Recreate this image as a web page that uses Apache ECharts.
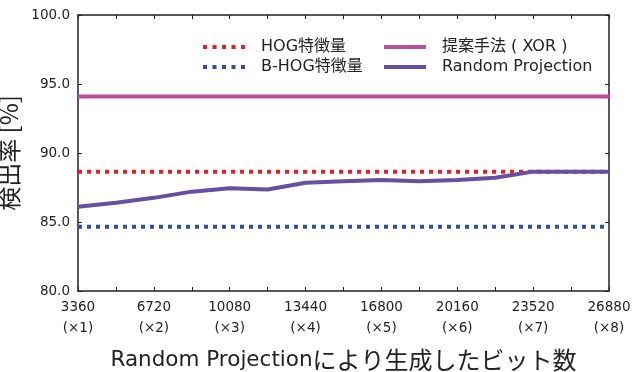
<!DOCTYPE html>
<html>
<head>
<meta charset="utf-8">
<script src="https://cdn.jsdelivr.net/npm/echarts@6/dist/echarts.min.js"></script>
<style>html,body{margin:0;padding:0;background:#fff}#c{width:633px;height:372px}</style>
</head>
<body>
<div id="c"></div>
<script>
const xValues = [3360, 5040, 6720, 8400, 10080, 11760, 13440, 15120, 16800, 18480, 20160, 21840, 23520, 25200, 26880];
const rpValues = [86.1, 86.4, 86.75, 87.2, 87.45, 87.35, 87.85, 87.95, 88.05, 87.95, 88.05, 88.2, 88.65, 88.65, 88.65];
const hogValue = 88.65;
const bhogValue = 84.65;
const xorValue = 94.1;
const xRange = [3360, 26880];
const yTicks = [80, 85, 90, 95, 100];
const seriesNames = ['HOG特徴量', 'B-HOG特徴量', '提案手法 ( XOR )', 'Random Projection'];

const font = '"DejaVu Sans", "Noto Sans CJK JP", sans-serif';
const cjk = '"Noto Sans CJK JP", sans-serif';
const chart = echarts.init(document.getElementById('c'), null, {renderer: 'canvas'});
const axisLine = {show: true, lineStyle: {color: '#222', width: 1.5}};
const axisTick = {show: true, inside: true, length: 4, lineStyle: {color: '#222', width: 1}};
const flat = v => xRange.map(x => [x, v]);
const dotIcon = 'path://M0,0h4v4h-4zM9.5,0h4v4h-4zM19,0h4v4h-4zM28.5,0h4v4h-4zM38,0h4v4h-4z';
const solidIcon = 'path://M0,0h42v4h-42z';

const legendText = {fontFamily: font, fontSize: 16, color: '#222', padding: [0, 0, 0, 11]};
chart.setOption({
  animation: false,
  backgroundColor: '#fff',
  grid: {left: 78, right: 24, top: 15, bottom: 81, containLabel: false, outerBoundsMode: 'none'},
  legend: [
    {left: 198, top: 34, orient: 'vertical', itemGap: 4, itemWidth: 42, itemHeight: 4,
     data: [{name: seriesNames[0], icon: dotIcon}, {name: seriesNames[1], icon: dotIcon}],
     textStyle: legendText},
    {left: 379, top: 34, orient: 'vertical', itemGap: 4, itemWidth: 42, itemHeight: 4,
     data: [{name: seriesNames[2], icon: solidIcon}, {name: seriesNames[3], icon: solidIcon}],
     textStyle: legendText}
  ],
  xAxis: [
    {type: 'value', min: xRange[0], max: xRange[1], interval: 1680, position: 'bottom',
     axisLine, axisTick, splitLine: {show: false},
     name: '{a|Random Projection}{b|により生成したビット数}', nameLocation: 'middle', nameGap: 57,
     nameTextStyle: {fontFamily: font, fontSize: 21.5, color: '#222',
       rich: {a: {fontFamily: font, fontSize: 21.5, color: '#222'},
              b: {fontFamily: cjk, fontSize: 24, color: '#222'}}},
     axisLabel: {margin: 6, fontFamily: font, fontSize: 13.5, color: '#222', lineHeight: 21,
       showMinLabel: true, showMaxLabel: true,
       formatter: v => ((v - 3360) % 3360 === 0) ? (v + '\n(×' + (v / 3360) + ')') : ''}},
    {type: 'value', min: xRange[0], max: xRange[1], interval: 1680, position: 'top',
     axisLine, axisTick, axisLabel: {show: false}, splitLine: {show: false}}
  ],
  yAxis: [
    {type: 'value', min: yTicks[0], max: yTicks[yTicks.length - 1], interval: 5, position: 'left',
     axisLine, axisTick, splitLine: {show: false},
     name: '検出率 [%]', nameLocation: 'middle', nameGap: 44, nameRotate: 90,
     nameTextStyle: {fontFamily: cjk, fontSize: 24, color: '#222'},
     axisLabel: {margin: 8, fontFamily: font, fontSize: 13.5, color: '#222', formatter: v => v.toFixed(1)}},
    {type: 'value', min: yTicks[0], max: yTicks[yTicks.length - 1], interval: 5, position: 'right',
     axisLine, axisTick, axisLabel: {show: false}, splitLine: {show: false}}
  ],
  series: [
    {name: seriesNames[0], type: 'line', data: flat(hogValue), symbol: 'none', z: 2,
     itemStyle: {color: '#ec1c24'},
     lineStyle: {color: '#ec1c24', width: 4, type: [4, 5]}},
    {name: seriesNames[1], type: 'line', data: flat(bhogValue), symbol: 'none', z: 2,
     itemStyle: {color: '#2f4f9f'},
     lineStyle: {color: '#2f4f9f', width: 4, type: [4, 5]}},
    {name: seriesNames[2], type: 'line', data: flat(xorValue), symbol: 'none', z: 3,
     itemStyle: {color: '#b64f9e'},
     lineStyle: {color: '#b64f9e', width: 4}},
    {name: seriesNames[3], type: 'line', data: xValues.map((x, i) => [x, rpValues[i]]), symbol: 'none', z: 4,
     itemStyle: {color: '#6650a0'},
     lineStyle: {color: '#6650a0', width: 4}}
  ]
});
</script>
</body>
</html>
